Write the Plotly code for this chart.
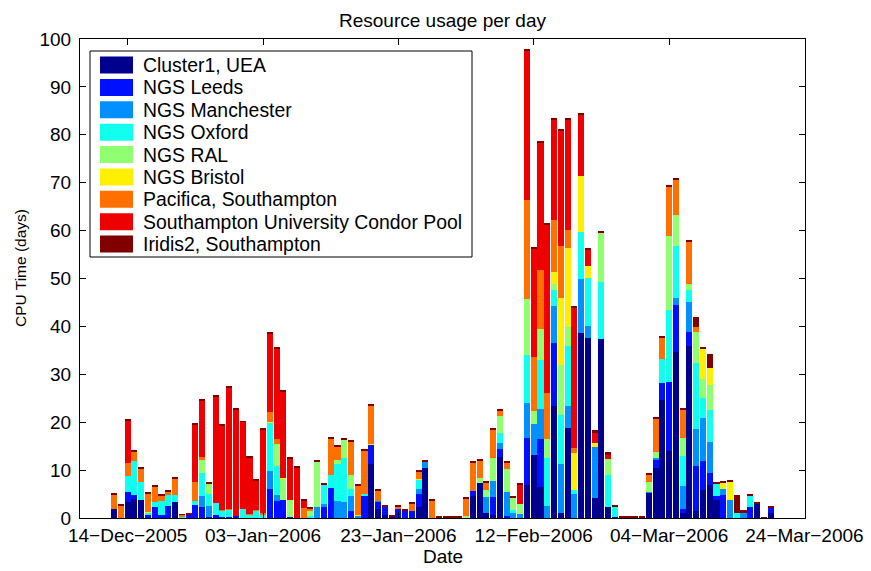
import plotly.graph_objects as go
import pandas as pd

# ---------------- data (CPU days per resource per day, from 12-Dec-2005) ----------------
start_date = "2005-12-12"

CL = [1.8, 0, 3.4, 4.0, 3.76, 0, 0, 0, 0, 3.27,
      0, 0, 0, 0, 0, 0, 0, 0, 0, 0,
      0, 0, 0, 0, 0, 0, 0, 0, 0, 0,
      0, 0, 0, 0, 0, 0, 0, 0, 11.2, 1.95,
      0.7, 0.3, 0, 0, 0, 2.3, 10.5, 0, 0, 0,
      0, 0, 0, 4.6, 7.4, 1.1, 0.6, 12.8, 0, 0,
      0, 6.9, 13.15, 6.55, 0, 23.4, 1.1, 18.7, 0, 38.7,
      37.5, 4.2, 37.4, 2.2, 0.3, 0, 0, 0, 0, 5.35,
      10.5, 24.6, 13.9, 34.65, 1.0, 35.9, 1.5, 5.85, 6.95, 3.75,
      0, 0, 0, 0, 0, 2.9, 0, 1.1]

LE = [0, 0, 2.1, 0.7, 0, 0.7, 2.37, 0.55, 2.57, 0,
      0, 0.65, 2.7, 2.4, 0.3, 0.7, 0.3, 0.3, 0.4, 0,
      0, 0, 0, 6.05, 3.6, 3.75, 0.3, 0, 0, 0,
      0, 2.2, 6.2, 0, 0, 1.45, 0, 4.6, 4.05, 1.4,
      1.7, 0, 1.95, 1.5, 1.5, 2.8, 0, 0, 0, 0,
      0, 0, 0, 1.1, 0, 0, 3.8, 1.65, 0.4, 0,
      0, 9.9, 0, 9.9, 0, 13.2, 0, 0, 0, 0,
      0, 0, 0, 0, 0, 0, 0, 0, 0, 0,
      1.75, 3.6, 14.5, 9.75, 0.85, 2.9, 9.3, 6.05, 2.5, 0.85,
      4.8, 0, 0, 0, 2.2, 0, 0, 1.0]

MA = [0, 0, 0, 0, 0, 0, 0, 0, 0, 0,
      0, 0, 0, 2.1, 2.2, 0, 0, 0, 0, 0,
      0, 0, 0, 3.75, 1.2, 0, 0, 0, 0, 0,
      2.2, 0.7, 0, 3.5, 3.4, 3.1, 0.5, 0, 0, 0.3,
      0, 0, 0, 0, 0, 0.9, 1.25, 0, 0, 0,
      0, 0, 0, 0, 0, 3.35, 3.35, 1.25, 5.1, 1.25,
      0.85, 7.2, 6.5, 6.35, 2.5, 7.7, 10.2, 4.65, 5.0, 11.1,
      2.65, 10.7, 0, 0, 0, 0, 0, 0, 0, 0.15,
      0.35, 0, 0, 1.45, 4.75, 6.3, 7.7, 9.05, 6.45, 0,
      1.2, 3.75, 0, 1.1, 0, 0, 0, 0]

OX = [0, 0, 3.3, 7.3, 3.8, 0.5, 1.05, 3.05, 2.23, 1.6,
      0.4, 0, 0.85, 5.0, 2.6, 2.5, 1.25, 1.4, 0, 1.95,
      0.7, 1.5, 0.7, 10.1, 6.1, 0, 0, 0, 0, 0.4,
      0, 4.0, 2.8, 7.8, 9.15, 1.6, 0, 0.35, 0, 0,
      0, 0, 0, 0, 0, 2.1, 0, 0, 0, 0,
      0, 0, 0, 0, 0, 0, 0, 2.1, 0, 0.4,
      0, 10.1, 0, 10.1, 10.1, 3.3, 10.2, 12.6, 0.85, 10.0,
      9.9, 0, 11.8, 6.75, 2.1, 0, 0, 0, 0, 0,
      0, 4.95, 15.0, 10.9, 6.4, 2.45, 13.85, 4.2, 6.6, 2.5,
      0, 0, 1.1, 0, 2.6, 0, 0, 0]

RA = [0, 0, 0, 0, 0, 0, 0, 0, 0, 0,
      0, 0, 0, 2.6, 2.1, 0, 0, 0, 0, 0,
      0, 0, 0, 0, 4.5, 4.45, 3.5, 0, 0, 1.1,
      9.6, 0, 0, 0.85, 3.85, 2.8, 0, 0, 0, 0,
      0, 0, 0, 0, 0, 0, 0, 0, 0, 0,
      0, 0, 0.4, 0, 0.85, 1.4, 4.8, 3.55, 4.7, 2.6,
      2.0, 11.7, 2.6, 6.55, 3.8, 1.3, 10.4, 4.0, 0, 0,
      0, 0, 10.4, 3.35, 0, 0, 0, 0, 0, 2.1,
      1.25, 0, 15.45, 6.5, 3.8, 1.4, 6.4, 3.9, 5.2, 0,
      0, 0, 0, 0, 0, 0, 0, 0]

BR = [0, 0, 0, 0, 0, 0.15, 0, 0, 0, 0,
      0, 0, 0, 0, 0, 0, 0, 0, 0, 0,
      0, 0, 0, 0.2, 0, 0.1, 0, 0, 0, 0,
      0, 0, 0, 0, 0, 0, 0.15, 0, 0.25, 0,
      0, 0, 0, 0, 0, 0.1, 0, 0, 0, 0,
      0, 0, 0, 0, 0, 0, 0, 0, 0, 0,
      0, 0, 0, 0, 0, 2.5, 14.0, 16.35, 7.65, 11.5,
      2.6, 0.85, 0, 0, 0, 0, 0, 0, 0, 0,
      0, 0, 0, 0, 0, 0, 0, 6.25, 3.7, 0,
      1.4, 3.8, 0, 0, 0, 0, 0, 0]

PA = [3.1, 2.6, 2.7, 1.7, 2.8, 3.8, 3.13, 1.05, 0.8, 3.43,
      0.25, 0, 3.9, 0.55, 0, 0, 0.15, 0.1, 0, 0,
      0.15, 0.15, 0.3, 2.0, 1.1, 0, 0, 0, 2.1, 0.4,
      0, 0.15, 7.65, 2.7, 0, 7.1, 6.15, 9.05, 7.95, 2.0,
      0, 0, 0.4, 0, 1.55, 1.6, 0, 3.75, 0, 0,
      0, 0, 3.7, 5.9, 3.75, 1.55, 5.9, 1.05, 1.45, 0,
      0, 20.6, 11.3, 12.4, 9.75, 10.8, 10.9, 3.75, 1.1, 0,
      0, 0, 0, 0, 0, 0, 0, 0, 0, 1.55,
      7.0, 4.45, 10.4, 7.5, 5.9, 8.7, 1.1, 0, 0, 0,
      0, 0, 0, 0, 0, 0, 0, 0]

CO = [0, 0, 8.85, 0, 0, 0, 0, 0, 0, 0,
      0, 0, 12.0, 11.8, 0, 22.2, 17.7, 25.4, 22.3, 18.1,
      11.8, 6.15, 17.4, 16.4, 18.9, 18.1, 8.55, 10.45, 1.65, 0,
      0, 0, 0, 0, 0, 0, 0, 0, 0, 0,
      0, 0, 0, 0, 0, 0, 0, 0, 0, 0,
      0, 0, 0, 0, 0, 0, 0, 0, 0, 0,
      4.05, 31.1, 22.8, 26.6, 35.1, 20.9, 24.2, 23.2, 29.3, 12.9,
      3.35, 2.2, 0, 1.05, 0, 0, 0, 0, 0, 0,
      0, 0, 0, 0, 0, 0, 0, 0, 0, 0,
      0, 0, 0, 0, 0, 0, 0, 0]

IR = [0.25, 0.25, 0.2, 0.6, 0.25, 0.25, 0.25, 0.35, 0.3, 0.2,
      0.15, 0.35, 0.2, 0.3, 0.3, 0.2, 0.2, 0.2, 0.2, 0.2,
      0.2, 0.2, 0.2, 0.2, 0.2, 0.2, 0.2, 0.2, 0.2, 0.3,
      0.2, 0.2, 0.2, 0.2, 0.3, 0.25, 0.2, 0.2, 0.35, 0.2,
      0.2, 0.3, 0.35, 0.25, 0.35, 0.2, 0.35, 0.3, 0.25, 0.25,
      0.25, 0.25, 0.3, 0.35, 0.3, 0.35, 0.2, 0.25, 0.3, 0.3,
      0.2, 0.3, 0.3, 0.2, 0.2, 0.3, 0.3, 0.3, 0.2, 0.3,
      0.2, 0.4, 0.2, 0.4, 0.3, 0.25, 0.25, 0.25, 0.25, 0.3,
      0.25, 0.2, 0.3, 0.3, 0.3, 0.2, 2.1, 0.35, 2.8, 0.3,
      0.35, 0.35, 3.7, 0.5, 0.3, 0.5, 0.2, 0.4]

series_names = ["Cluster1, UEA", "NGS Leeds", "NGS Manchester", "NGS Oxford",
                "NGS RAL", "NGS Bristol", "Pacifica, Southampton",
                "Southampton University Condor Pool", "Iridis2, Southampton"]
series_colors = ["#00008F", "#0010FF", "#0090FF", "#10FFEF", "#90FF70",
                 "#FFEF00", "#FF7000", "#EF0000", "#800000"]
series_values = [CL, LE, MA, OX, RA, BR, PA, CO, IR]

tick_dates = ["2005-12-14", "2006-01-03", "2006-01-23", "2006-02-12", "2006-03-04", "2006-03-24"]
tick_labels = ["14\u2212Dec\u22122005", "03\u2212Jan\u22122006", "23\u2212Jan\u22122006",
               "12\u2212Feb\u22122006", "04\u2212Mar\u22122006", "24\u2212Mar\u22122006"]

# ---------------- figure ----------------
dates = pd.date_range(start_date, periods=len(CL), freq="D")
FONT = "Liberation Sans, Arial, Helvetica, sans-serif"

W, H = 871, 571
L, R, T, B = 80, 805, 39, 518   # plot area in pixels


def px(xp):
    return (xp - L) / (R - L)


def py(yp):
    return (B - yp) / (B - T)


fig = go.Figure()
for name, color, vals in zip(series_names, series_colors, series_values):
    fig.add_trace(go.Bar(x=dates, y=vals, name=name, showlegend=False,
                         marker=dict(color=color, line=dict(width=0))))

shapes = []
annotations = []

# custom MATLAB-like legend
shapes.append(dict(type="rect", xref="paper", yref="paper",
                   x0=px(90), x1=px(472), y0=py(257), y1=py(51),
                   fillcolor="white", line=dict(color="black", width=1), layer="above"))
for i, (name, color) in enumerate(zip(series_names, series_colors)):
    yc = 65 + 22.375 * i
    shapes.append(dict(type="rect", xref="paper", yref="paper",
                       x0=px(100), x1=px(133), y0=py(yc + 8.5), y1=py(yc - 8.5),
                       fillcolor=color, line=dict(width=0), layer="above"))
    annotations.append(dict(text=name, xref="paper", yref="paper", x=px(141), y=py(yc),
                            xanchor="left", yanchor="middle", showarrow=False,
                            font=dict(size=19.4, color="black", family=FONT)))

# axis titles
annotations.append(dict(text="Date", xref="paper", yref="paper", x=0.5, y=py(556),
                        xanchor="center", yanchor="middle", showarrow=False,
                        font=dict(size=19, color="black", family=FONT)))
annotations.append(dict(text="CPU Time (days)", xref="paper", yref="paper", x=px(20), y=py(268),
                        xanchor="center", yanchor="middle", showarrow=False, textangle=-90,
                        font=dict(size=15.5, color="black", family=FONT)))

fig.update_layout(
    width=W, height=H,
    margin=dict(l=L, r=W - R, t=T, b=H - B, pad=0, autoexpand=False),
    barmode="stack", bargap=0.1,
    plot_bgcolor="white", paper_bgcolor="white",
    font=dict(family=FONT, size=19, color="black"),
    title=dict(text="Resource usage per day", x=0.5, xref="paper",
               y=1 - 20 / H, yref="container", xanchor="center", yanchor="middle",
               font=dict(size=19, color="black", family=FONT)),
    shapes=shapes, annotations=annotations,
    showlegend=False,
)
fig.update_xaxes(
    type="date", range=["2005-12-06 23:00", "2006-03-24 02:00"],
    tickvals=tick_dates, ticktext=tick_labels,
    ticks="inside", ticklen=6, tickcolor="black", tickwidth=1,
    showline=True, linecolor="black", linewidth=1, mirror="ticks",
    showgrid=False, zeroline=False, automargin=False,
    tickfont=dict(size=19, color="black", family=FONT),
)
fig.update_yaxes(
    range=[0, 100], dtick=10, tick0=0,
    ticks="inside", ticklen=6, tickcolor="black", tickwidth=1,
    showline=True, linecolor="black", linewidth=1, mirror="ticks",
    showgrid=False, zeroline=False, ticklabelstandoff=4, automargin=False,
    tickfont=dict(size=19, color="black", family=FONT),
)

fig.write_html("out.html", config={"displayModeBar": False},
               post_script="document.body.style.margin='0px';document.body.style.overflow='hidden';")
